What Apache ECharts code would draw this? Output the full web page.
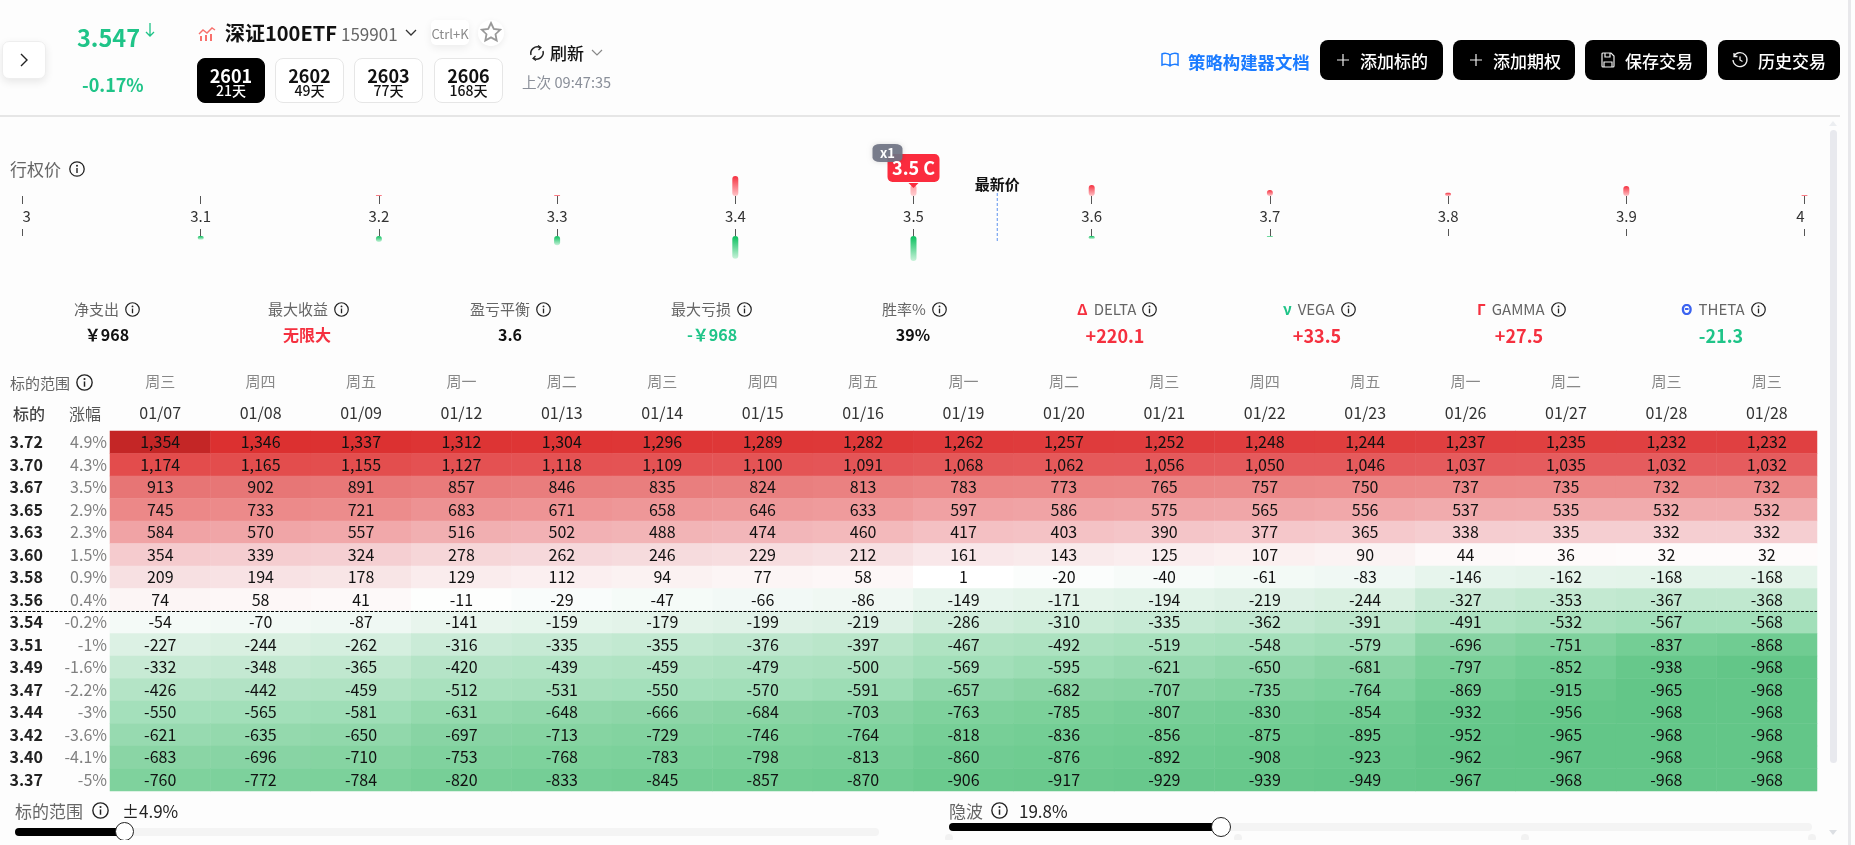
<!DOCTYPE html>
<html lang="zh">
<head>
<meta charset="utf-8">
<title>深证100ETF 策略构建器</title>
<script src="https://cdn.jsdelivr.net/npm/echarts@6/dist/echarts.min.js"></script>
<style>
html,body{margin:0;padding:0;width:1855px;height:845px;overflow:hidden;background:#fdfdfd;font-family:"Noto Sans CJK SC","Noto Sans",sans-serif;color:#222}
#chart{position:absolute;left:0;top:0;width:1855px;height:845px}
#ui{position:absolute;left:0;top:0;width:1855px;height:845px;pointer-events:none}
.t{position:absolute;white-space:nowrap;line-height:1;transform:translateY(-50%)}
.c{transform:translate(-50%,-50%)}
.box{position:absolute;box-sizing:border-box}
.exp{position:absolute;top:58px;height:45px;box-sizing:border-box;border:1px solid #e6e6e6;border-radius:8px;background:#fff;text-align:center;color:#111}
.exp.on{background:#000;color:#fff;border-color:#000}
.exp b{position:absolute;left:0;right:0;top:6.5px;font-size:18px;line-height:18px;font-weight:700}
.exp span{position:absolute;left:0;right:0;top:23.5px;font-size:14px;line-height:14px;font-weight:500}
.btn{position:absolute;top:40px;height:40px;background:#000;border-radius:8px;color:#fff}
.btn span{position:absolute;top:50%;transform:translateY(-50%);line-height:1;font-size:17px;font-weight:500;white-space:nowrap}
.btn svg{position:absolute;top:11px}
.stat{position:absolute;display:flex;align-items:center;gap:6px;white-space:nowrap;top:301px;height:16px;font-size:15px;line-height:16px;color:#666}
.val{position:absolute;transform:translate(-50%,-50%);white-space:nowrap;top:334px;font-size:16px;line-height:1;font-weight:700;color:#111}
.greek{font-size:18px;font-weight:600;top:335px}
.red{color:#f5303f}.grn{color:#1fc488}
.hd{color:#888;font-size:15px}
</style>
</head>
<body>
<div id="chart"></div>
<div id="ui">
<svg width="0" height="0" style="position:absolute"><defs>
<symbol id="info" viewBox="0 0 16 16"><circle cx="8" cy="8" r="7.2" fill="none" stroke="#222" stroke-width="1.3"/><circle cx="8" cy="4.7" r="1" fill="#222"/><path d="M8 7v5" stroke="#222" stroke-width="1.4"/></symbol>
<symbol id="plus" viewBox="0 0 18 18"><path d="M9 3v12M3 9h12" stroke="#eee" stroke-width="1.2"/></symbol>
</defs></svg>

<!-- left header -->
<div class="box" style="left:2px;top:41px;width:44px;height:38px;background:#fff;border:1px solid #eee;border-radius:7px;box-shadow:0 3px 8px rgba(0,0,0,.09)"></div>
<svg class="box" style="left:17px;top:52px" width="14" height="16"><path d="M4 2l6 6-6 6" fill="none" stroke="#222" stroke-width="1.4"/></svg>
<div class="t grn" style="left:77px;top:38px;font-size:23.5px;font-weight:600">3.547</div>
<svg class="box" style="left:144px;top:22px" width="12" height="16"><path d="M6 1v13M2 10l4 4 4-4" fill="none" stroke="#1fc488" stroke-width="1.3"/></svg>
<div class="t grn" style="left:82px;top:84px;font-size:18px;font-weight:600">-0.17%</div>

<svg class="box" style="left:198px;top:26px" width="19" height="15"><path d="M1 8l4-4 4 3 5-5 3 2" fill="none" stroke="#f8706c" stroke-width="1.4"/><path d="M2 10h2v5H2zM7 9h2v6H7zM12 8h2v7h-2z" fill="#f8706c"/></svg>
<div class="t" style="left:225px;top:33px;font-size:20px;font-weight:700;color:#111">深证100ETF</div>
<div class="t" style="left:341px;top:33px;font-size:17px;color:#666">159901</div>
<svg class="box" style="left:404px;top:28px" width="14" height="10"><path d="M2 2l5 5 5-5" fill="none" stroke="#333" stroke-width="1.3"/></svg>
<div class="box" style="left:431px;top:20px;width:38px;height:25px;background:#fff;border-radius:5px;box-shadow:0 3px 8px rgba(0,0,0,.07)"></div>
<div class="t c" style="left:450px;top:33px;font-size:13px;color:#8a8a8a">Ctrl+K</div>
<div class="box" style="left:478px;top:20px;width:26px;height:26px;border-radius:13px;background:#fff;box-shadow:0 2px 6px rgba(0,0,0,.07)"></div>
<svg class="box" style="left:480px;top:21px" width="22" height="22"><path d="M11 2l2.8 6 6.4.8-4.7 4.4 1.2 6.4-5.7-3.2-5.7 3.2 1.2-6.4L1.8 8.800l6.400-.8z" fill="none" stroke="#999" stroke-width="1.8"/></svg>

<div class="exp on" style="left:197px;width:68px"><b>2601</b><span>21天</span></div>
<div class="exp" style="left:275px;width:69px"><b>2602</b><span>49天</span></div>
<div class="exp" style="left:354px;width:69px"><b>2603</b><span>77天</span></div>
<div class="exp" style="left:434px;width:69px"><b>2606</b><span>168天</span></div>

<svg class="box" style="left:528px;top:43px" width="18" height="20" viewBox="0 0 18 18"><path d="M3 11a6.500 6.500 0 0 1 9-7.500M15 7a6.500 6.500 0 0 1-9 7.500" fill="none" stroke="#222" stroke-width="1.5"/><path d="M10 1.500l3 2-2.500 2.500M8 16.500l-3-2 2.500-2.500" fill="none" stroke="#222" stroke-width="1.2"/></svg>
<div class="t" style="left:550px;top:52px;font-size:17px;font-weight:500;color:#111">刷新</div>
<svg class="box" style="left:590px;top:48px" width="14" height="10"><path d="M2 2l5 5 5-5" fill="none" stroke="#888" stroke-width="1.2"/></svg>
<div class="t" style="left:522px;top:82px;font-size:14.600px;color:#8a8f99">上次 09:47:35</div>

<!-- right header -->
<svg class="box" style="left:1160px;top:51px" width="20" height="18"><path d="M10 4C8 2 4 2 2 3v11c2-1 6-1 8 1 2-2 6-2 8-1V3c-2-1-6-1-8 1zM10 4v11" fill="none" stroke="#1b7bff" stroke-width="1.5"/></svg>
<div class="t" style="left:1188px;top:62px;font-size:17.400px;font-weight:600;color:#1b7bff">策略构建器文档</div>
<div class="btn" style="left:1320px;width:123px"><svg style="left:14px" width="18" height="18"><use href="#plus"/></svg><span style="left:40px">添加标的</span></div>
<div class="btn" style="left:1453px;width:122px"><svg style="left:14px" width="18" height="18"><use href="#plus"/></svg><span style="left:40px">添加期权</span></div>
<div class="btn" style="left:1585px;width:122px"><svg style="left:14px" width="18" height="18"><path d="M4 2h8l3 3v10a1 1 0 0 1-1 1H4a1 1 0 0 1-1-1V3a1 1 0 0 1 1-1zM6 2v4h5V2M5 16v-5h8v5" fill="none" stroke="#eee" stroke-width="1.2"/></svg><span style="left:40px">保存交易</span></div>
<div class="btn" style="left:1718px;width:122px"><svg style="left:13px" width="18" height="18"><path d="M3 5a7 7 0 1 1-1 4M3 2v3.500h3.500M9 5.500V9l2.500 1.500" fill="none" stroke="#eee" stroke-width="1.3"/></svg><span style="left:40px">历史交易</span></div>

<div class="box" style="left:0;top:115px;width:1840px;height:1.500px;background:#e6e6e6"></div>
<div class="box" style="left:1830px;top:130px;width:7px;height:633px;background:#e8e9ee;border-radius:4px"></div>
<svg class="box" style="left:1828px;top:120px" width="10" height="8"><path d="M1 6l4-5 4 5z" fill="#eceef1"/></svg>
<svg class="box" style="left:1828px;top:829px" width="10" height="8"><path d="M1 1l4 5 4-5z" fill="#dcdfe3"/></svg>
<div class="box" style="left:1848px;top:0;width:2.500px;height:845px;background:#e8e8eb"></div>

<!-- strike title -->
<div class="t" style="left:10px;top:168px;font-size:17px;color:#666">行权价</div>
<svg class="box" style="left:69px;top:161px" width="16" height="16"><use href="#info"/></svg>

<!-- stats -->
<div class="stat" style="left:74px">净支出<svg width="15" height="15"><use href="#info"/></svg></div>
<div class="val" style="left:107px">￥968</div>
<div class="stat" style="left:268px">最大收益<svg width="15" height="15"><use href="#info"/></svg></div>
<div class="val red" style="left:307px">无限大</div>
<div class="stat" style="left:470px">盈亏平衡<svg width="15" height="15"><use href="#info"/></svg></div>
<div class="val" style="left:510px">3.6</div>
<div class="stat" style="left:671px">最大亏损<svg width="15" height="15"><use href="#info"/></svg></div>
<div class="val grn" style="left:712px">-￥968</div>
<div class="stat" style="left:882px">胜率%<svg width="15" height="15"><use href="#info"/></svg></div>
<div class="val" style="left:913px">39%</div>
<div class="stat" style="left:1077px"><span class="red" style="font-weight:700">Δ</span>DELTA<svg width="15" height="15"><use href="#info"/></svg></div>
<div class="val greek red" style="left:1115px">+220.1</div>
<div class="stat" style="left:1283px"><span class="grn" style="font-weight:700">ν</span>VEGA<svg width="15" height="15"><use href="#info"/></svg></div>
<div class="val greek red" style="left:1317px">+33.5</div>
<div class="stat" style="left:1477px"><span class="red" style="font-weight:700">Γ</span>GAMMA<svg width="15" height="15"><use href="#info"/></svg></div>
<div class="val greek red" style="left:1519px">+27.5</div>
<div class="stat" style="left:1681px"><span style="font-weight:700;color:#3b63f0">Θ</span>THETA<svg width="15" height="15"><use href="#info"/></svg></div>
<div class="val greek grn" style="left:1721px">-21.3</div>

<!-- table heads -->
<div class="t hd" style="left:10px;top:382px;color:#666">标的范围</div>
<svg class="box" style="left:76px;top:374px" width="17" height="17"><use href="#info"/></svg>
<div class="t" style="left:13px;top:413px;font-size:16px;font-weight:500;color:#444">标的</div>
<div class="t" style="left:69px;top:413px;font-size:16px;color:#555">涨幅</div>

<!-- dashed breakeven line -->
<svg class="box" style="left:10px;top:610px" width="1807" height="3"><path d="M0 1.500H1807" stroke="#000" stroke-width="1" stroke-dasharray="3 1.500"/></svg>

<!-- sliders -->
<div class="t" style="left:15px;top:810px;font-size:17px;color:#666">标的范围</div>
<svg class="box" style="left:92px;top:802px" width="17" height="17"><use href="#info"/></svg>
<div class="t" style="left:122px;top:810px;font-size:17px;color:#222">±4.9%</div>
<div style="position:absolute;left:0;top:815px;width:1855px;height:25px;overflow:hidden">
  <div class="box" style="left:15px;top:13px;width:864px;height:8px;background:#f4f4f4;border-radius:4px"></div>
  <div class="box" style="left:15px;top:13px;width:110px;height:8px;background:#000;border-radius:4px"></div>
  <div class="box" style="left:115px;top:7px;width:19px;height:19px;background:#fff;border:1.500px solid #222;border-radius:50%"></div>
  <div class="box" style="left:945px;top:19px;width:8px;height:8px;border-radius:50%;background:#f2f2f2"></div>
  <div class="box" style="left:1234px;top:19px;width:8px;height:8px;border-radius:50%;background:#f2f2f2"></div>
  <div class="box" style="left:1521px;top:19px;width:8px;height:8px;border-radius:50%;background:#f2f2f2"></div>
  <div class="box" style="left:1808px;top:19px;width:8px;height:8px;border-radius:50%;background:#f2f2f2"></div>
</div>
<div class="t" style="left:949px;top:810px;font-size:17px;color:#666">隐波</div>
<svg class="box" style="left:991px;top:802px" width="17" height="17"><use href="#info"/></svg>
<div class="t" style="left:1019px;top:810px;font-size:17px;color:#222">19.8%</div>
<div class="box" style="left:949px;top:823px;width:863px;height:8px;background:#f4f4f4;border-radius:4px"></div>
<div class="box" style="left:949px;top:823px;width:272px;height:8px;background:#000;border-radius:4px"></div>
<div class="box" style="left:1211px;top:817px;width:20px;height:20px;background:#fff;border:1.500px solid #222;border-radius:50%"></div>
</div>

<script>
// ---- data ----
const weekdays = ['周三','周四','周五','周一','周二','周三','周四','周五','周一','周二','周三','周四','周五','周一','周二','周三','周三'];
const dates = ['01/07','01/08','01/09','01/12','01/13','01/14','01/15','01/16','01/19','01/20','01/21','01/22','01/23','01/26','01/27','01/28','01/28'];
const underlyings = ['3.72','3.70','3.67','3.65','3.63','3.60','3.58','3.56','3.54','3.51','3.49','3.47','3.44','3.42','3.40','3.37'];
const changes = ['4.9%','4.3%','3.5%','2.9%','2.3%','1.5%','0.9%','0.4%','-0.2%','-1%','-1.6%','-2.2%','-3%','-3.6%','-4.1%','-5%'];
const pnl372 = [1354,1346,1337,1312,1304,1296,1289,1282,1262,1257,1252,1248,1244,1237,1235,1232,1232];
const pnl370 = [1174,1165,1155,1127,1118,1109,1100,1091,1068,1062,1056,1050,1046,1037,1035,1032,1032];
const pnl367 = [913,902,891,857,846,835,824,813,783,773,765,757,750,737,735,732,732];
const pnl365 = [745,733,721,683,671,658,646,633,597,586,575,565,556,537,535,532,532];
const pnl363 = [584,570,557,516,502,488,474,460,417,403,390,377,365,338,335,332,332];
const pnl360 = [354,339,324,278,262,246,229,212,161,143,125,107,90,44,36,32,32];
const pnl358 = [209,194,178,129,112,94,77,58,1,-20,-40,-61,-83,-146,-162,-168,-168];
const pnl356 = [74,58,41,-11,-29,-47,-66,-86,-149,-171,-194,-219,-244,-327,-353,-367,-368];
const pnl354 = [-54,-70,-87,-141,-159,-179,-199,-219,-286,-310,-335,-362,-391,-491,-532,-567,-568];
const pnl351 = [-227,-244,-262,-316,-335,-355,-376,-397,-467,-492,-519,-548,-579,-696,-751,-837,-868];
const pnl349 = [-332,-348,-365,-420,-439,-459,-479,-500,-569,-595,-621,-650,-681,-797,-852,-938,-968];
const pnl347 = [-426,-442,-459,-512,-531,-550,-570,-591,-657,-682,-707,-735,-764,-869,-915,-965,-968];
const pnl344 = [-550,-565,-581,-631,-648,-666,-684,-703,-763,-785,-807,-830,-854,-932,-956,-968,-968];
const pnl342 = [-621,-635,-650,-697,-713,-729,-746,-764,-818,-836,-856,-875,-895,-952,-965,-968,-968];
const pnl340 = [-683,-696,-710,-753,-768,-783,-798,-813,-860,-876,-892,-908,-923,-962,-967,-968,-968];
const pnl337 = [-760,-772,-784,-820,-833,-845,-857,-870,-906,-917,-929,-939,-949,-967,-968,-968,-968];
const pnlRows = [pnl372,pnl370,pnl367,pnl365,pnl363,pnl360,pnl358,pnl356,pnl354,pnl351,pnl349,pnl347,pnl344,pnl342,pnl340,pnl337];

const strikes = [3,3.1,3.2,3.3,3.4,3.5,3.6,3.7,3.8,3.9,4];
const callVolume = [0,0,1,1,20,11,11,6,3.3,10,1];
const putVolume = [0,3.7,6,9.3,22.7,25,3,1,0,0,0];
const lastPrice = 3.547;
const selectedStrike = 3.5;

// ---- styling ----
const FONT = '"Noto Sans CJK SC","Noto Sans",sans-serif';
const TAG_PATH = 'path://M5 0H47a5 5 0 0 1 5 5V23a5 5 0 0 1-5 5H5a5 5 0 0 1-5-5V5a5 5 0 0 1 5-5Z';
const heatStops = [[1354,'#c42626'],[1350,'#dc2f2f'],[1262,'#df3a3b'],[1174,'#e34c4c'],[1032,'#e55c5e'],[913,'#e77575'],[732,'#ec8a8a'],[584,'#f0a3a5'],[354,'#f5cbce'],[209,'#f7e0e2'],[74,'#fcf5f5'],[0,'#ffffff'],[-54,'#f4faf7'],[-227,'#dcf1e4'],[-426,'#b4e4c6'],[-568,'#a2dfb9'],[-683,'#8ad5a5'],[-760,'#7fd29d'],[-868,'#70cc92'],[-968,'#63c688']];
function heatColor(v){
  for(let i=0;i<heatStops.length-1;i++){
    const [a,ca]=heatStops[i],[b,cb]=heatStops[i+1];
    if(v<=a&&v>=b){
      const t=(a-v)/(a-b);
      const p=s=>[1,3,5].map(k=>parseInt(s.substr(k,2),16));
      const A=p(ca),B=p(cb);
      return 'rgb('+A.map((x,j)=>Math.round(x+(B[j]-x)*t)).join(',')+')';
    }
  }
  return heatStops[heatStops.length-1][1];
}
const grad=(a,b)=>new echarts.graphic.LinearGradient(0,0,0,1,[{offset:0,color:a},{offset:1,color:b}]);

const heatData=[];
pnlRows.forEach((row,r)=>row.forEach((v,c)=>heatData.push({value:[c,r,v],itemStyle:{color:heatColor(v)}})));

const strikeX={type:'value',min:3,max:4,interval:0.1};
const chart=echarts.init(document.getElementById('chart'),null,{renderer:'canvas',width:1855,height:845});
chart.setOption({
  animation:false,
  backgroundColor:'transparent',
  textStyle:{fontFamily:FONT},
  tooltip:{show:false},
  grid:[
    {left:110,top:431,width:1707,height:360},
    {left:22.5,top:140,width:1782,height:64},
    {left:22.5,top:229,width:1782,height:43},
    {left:22.5,top:193,width:1782,height:48}
  ],
  xAxis:[
    {type:'category',gridIndex:0,data:dates,position:'top',axisLine:{show:false},axisTick:{show:false},splitLine:{show:false},
     axisLabel:{interval:0,fontSize:16,color:'#333',fontFamily:FONT,margin:10}},
    {type:'category',gridIndex:0,data:weekdays,position:'top',offset:32,axisLine:{show:false},axisTick:{show:false},splitLine:{show:false},
     axisLabel:{interval:0,fontSize:15,color:'#888',fontFamily:FONT,margin:10}},
    {...strikeX,gridIndex:1,position:'bottom',axisLine:{show:false,onZero:false},splitLine:{show:false},
     axisTick:{show:true,inside:true,length:8,lineStyle:{color:'#555',width:1}},
     axisLabel:{show:true,fontSize:15,color:'#333',fontFamily:FONT,margin:5,hideOverlap:false,showMinLabel:true,showMaxLabel:true,alignMinLabel:'left',alignMaxLabel:'right',formatter:v=>String(+(+v).toFixed(1))}},
    {...strikeX,gridIndex:2,position:'top',axisLine:{show:false,onZero:false},splitLine:{show:false},
     axisTick:{show:true,inside:true,length:7,lineStyle:{color:'#555',width:1}},axisLabel:{show:false}},
    {...strikeX,gridIndex:3,show:false}
  ],
  yAxis:[
    {type:'category',gridIndex:0,data:changes,inverse:true,axisLine:{show:false},axisTick:{show:false},splitLine:{show:false},
     axisLabel:{interval:0,fontSize:16,color:'#808080',fontFamily:FONT,margin:3}},
    {type:'category',gridIndex:0,data:underlyings,inverse:true,position:'left',offset:67,axisLine:{show:false},axisTick:{show:false},splitLine:{show:false},
     axisLabel:{interval:0,fontSize:16,fontWeight:700,color:'#222',fontFamily:FONT,margin:0}},
    {type:'value',gridIndex:1,min:-8,max:56,show:false},
    {type:'value',gridIndex:2,min:-7,max:36,inverse:true,show:false},
    {type:'value',gridIndex:3,min:0,max:1,show:false}
  ],
  series:[
    {type:'heatmap',xAxisIndex:0,yAxisIndex:0,data:heatData,progressive:0,
     label:{show:true,fontSize:16,color:'#111',fontFamily:FONT,formatter:p=>p.value[2].toLocaleString('en-US')},
     emphasis:{disabled:true}},
    {type:'bar',xAxisIndex:2,yAxisIndex:2,barWidth:6,silent:true,
     data:strikes.map((s,i)=>({value:[s,callVolume[i]],itemStyle:{
       color:s===selectedStrike?grad('#ff9aa0','#ffd0d3'):grad('#f5303f','#ffc4c8'),borderRadius:3}})),
     markPoint:{silent:true,animation:false,data:[
       {coord:[selectedStrike,28],symbol:TAG_PATH,symbolSize:[52,28],itemStyle:{color:'#fb2c3e'},
        label:{show:true,position:'inside',formatter:'3.5 C',color:'#fff',fontSize:18,fontWeight:700,fontFamily:FONT}},
       {coord:[selectedStrike,10.5],symbol:'triangle',symbolSize:[10,5],symbolRotate:180,itemStyle:{color:'#fb2c3e'},label:{show:false}},
       {coord:[selectedStrike,43],symbol:'roundRect',symbolSize:[30,18],symbolOffset:[-26,0],itemStyle:{color:'rgba(112,116,132,.93)',shadowColor:'rgba(0,0,0,.15)',shadowBlur:5},
        label:{show:true,position:'inside',formatter:'x1',color:'#fff',fontSize:13,fontWeight:700,fontFamily:FONT}}
     ]}},
    {type:'bar',xAxisIndex:3,yAxisIndex:3,barWidth:6,silent:true,
     data:strikes.map((s,i)=>({value:[s,putVolume[i]],itemStyle:{color:grad('#09bf5d','#c9f2da'),borderRadius:3}}))},
    {type:'line',xAxisIndex:4,yAxisIndex:4,silent:true,symbol:'circle',symbolSize:0,showSymbol:true,
     lineStyle:{color:'#5c92ee',width:1,type:[3,2]},
     data:[{value:[lastPrice,1],label:{show:true,position:'top',distance:1,formatter:'最新价',fontSize:15,fontWeight:700,color:'#111',fontFamily:FONT}},
           {value:[lastPrice,0],label:{show:false}}]}
  ]
});
</script>
</body>
</html>
